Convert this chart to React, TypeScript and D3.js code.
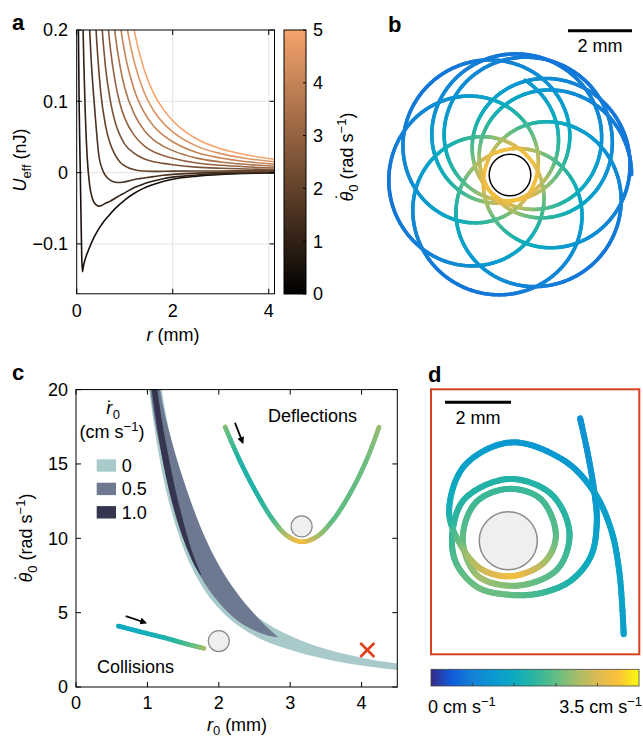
import React from "react";
import * as d3 from "d3";

const FONT = "'Liberation Sans', Arial, Helvetica, sans-serif";

// ---------------- Panel a : effective potential curves ----------------
const thetaDotLevels = [0.5, 1, 1.5, 2, 2.5, 3, 3.5, 4, 4.5, 5];
const ueffTheta05 = [[0.03,0.24],[0.05,0.1],[0.07,0.018],[0.09,-0.062],[0.105,-0.118],[0.12,-0.139],[0.14,-0.131],[0.17,-0.123],[0.22,-0.113],[0.28,-0.103],[0.36,-0.091],[0.45,-0.08],[0.55,-0.07],[0.64,-0.0625],[0.8,-0.0505],[1.0,-0.0385],[1.2,-0.029],[1.4,-0.0218],[1.68,-0.0148],[2.0,-0.0093],[2.5,-0.005],[3.0,-0.0026],[3.5,-0.0013],[4.12,-0.0004]];
const ueffTheta10 = [[0.12,0.24],[0.15,0.15],[0.18,0.08],[0.22,0.02],[0.27,-0.018],[0.33,-0.037],[0.4,-0.045],[0.46,-0.047],[0.52,-0.046],[0.6,-0.043],[0.7,-0.04],[0.8,-0.036],[0.9,-0.032],[1.0,-0.0285],[1.2,-0.0209],[1.4,-0.0158],[1.6,-0.0119],[1.8,-0.0086],[2.0,-0.0064],[2.5,-0.0034],[3.0,-0.0015],[3.5,-0.0006],[4.12,0.0001]];
const ueffTheta15 = [[0.24,0.24],[0.3,0.16],[0.38,0.085],[0.46,0.025],[0.55,0.002],[0.65,-0.008],[0.75,-0.0125],[0.85,-0.0138],[0.95,-0.0135],[1.1,-0.0115],[1.2,-0.0098],[1.4,-0.0076],[1.6,-0.0056],[1.8,-0.0038],[2.0,-0.0025],[2.5,-0.0008],[3.0,0.0003],[3.5,0.0008],[4.12,0.0011]];
const ueffTheta20 = [[0.35,0.289],[0.4,0.204],[0.45,0.153],[0.5,0.113],[0.6,0.066],[0.7,0.04],[0.8,0.025],[0.9,0.015],[1.0,0.0095],[1.2,0.004],[1.4,0.0022],[1.6,0.0017],[1.8,0.0018],[2.0,0.002],[2.5,0.0022],[3.0,0.0023],[3.5,0.0024],[4.12,0.0024]];
const ueffTheta25 = [[0.45,0.299],[0.5,0.232],[0.6,0.148],[0.7,0.101],[0.8,0.071],[0.9,0.0525],[1.0,0.04],[1.2,0.027],[1.4,0.0194],[1.6,0.0151],[1.8,0.0129],[2.0,0.0111],[2.5,0.0077],[3.0,0.0061],[3.5,0.0051],[4.12,0.0042]];
const ueffTheta30 = [[0.55,0.303],[0.6,0.249],[0.7,0.175],[0.8,0.128],[0.9,0.097],[1.0,0.0764],[1.2,0.0522],[1.4,0.0379],[1.6,0.0292],[1.8,0.024],[2.0,0.0201],[2.5,0.0134],[3.0,0.0102],[3.5,0.0081],[4.12,0.0064]];
const ueffTheta35 = [[0.65,0.3085],[0.7,0.262],[0.8,0.195],[0.9,0.15],[1.0,0.119],[1.2,0.082],[1.4,0.0597],[1.6,0.046],[1.8,0.0372],[2.0,0.0308],[2.5,0.0203],[3.0,0.0149],[3.5,0.0116],[4.12,0.0089]];
const ueffTheta40 = [[0.75,0.312],[0.8,0.272],[0.9,0.211],[1.0,0.1686],[1.2,0.116],[1.4,0.085],[1.6,0.0653],[1.8,0.0525],[2.0,0.0432],[2.5,0.0282],[3.0,0.0204],[3.5,0.0156],[4.12,0.0118]];
const ueffTheta45 = [[0.85,0.316],[0.9,0.28],[1.0,0.2245],[1.1,0.1847],[1.2,0.155],[1.4,0.1135],[1.6,0.0871],[1.8,0.0697],[2.0,0.0571],[2.5,0.0371],[3.0,0.0266],[3.5,0.0202],[4.12,0.0151]];
const ueffTheta50 = [[0.95,0.319],[1.0,0.287],[1.1,0.2364],[1.2,0.1985],[1.4,0.1454],[1.6,0.1115],[1.8,0.089],[2.0,0.0728],[2.5,0.0471],[3.0,0.0336],[3.5,0.0253],[4.12,0.0188]];
const ueffCurves = [ueffTheta05, ueffTheta10, ueffTheta15, ueffTheta20, ueffTheta25, ueffTheta30, ueffTheta35, ueffTheta40, ueffTheta45, ueffTheta50];
const aXTicks = [0, 2, 4];
const aYTicks = [-0.1, 0, 0.1, 0.2];
const aYTickLabels = ["\u22120.1", "0", "0.1", "0.2"];
const aGridX = [2, 4];
const aGridY = [-0.1, 0, 0.1];
const aColorbarTicks = [0, 1, 2, 3, 4, 5];
const aColormapEnds = ["#000000", "#f6a46c"];

// ---------------- Panel b : rosette orbit (precessing loop) ----------------
const bLoopRadiusMm = [2.3];
const bGuideRadiusMm = [1.5];
const bLoopPhaseStartEndDeg = [77.8, 2880];
const bPrecessionPerLoopDeg = [62.89];
const bEndAngleDeg = [0];
const bObstacleRadiusMm = [0.65];
const bSpeedColorRange = [0.17, 0.87];

// ---------------- Panel c : capture bands ----------------
const cXTicks = [0, 1, 2, 3, 4];
const cYTicks = [0, 5, 10, 15, 20];
const band0R = [0.95, 1.0, 1.1, 1.2, 1.35, 1.5, 1.75, 2.0, 2.5, 3.0, 3.5, 4.0, 4.5];
const band0Lo = [23.3, 21.0, 17.4, 14.6, 11.6, 9.4, 6.9, 5.3, 3.45, 2.5, 1.87, 1.44, 1.14];
const band0Hi = [31.5, 28.5, 23.6, 20.0, 16.2, 13.3, 9.9, 7.6, 4.9, 3.45, 2.55, 1.97, 1.58];
const band05R = [1.0, 1.1, 1.2, 1.35, 1.5, 1.75, 2.0, 2.25, 2.5, 2.75, 2.82];
const band05Lo = [21.5, 18.0, 15.6, 12.3, 10.0, 7.4, 5.7, 4.5, 3.8, 3.4, 3.35];
const band05Hi = [27.0, 22.6, 19.4, 16.4, 14.0, 10.7, 8.2, 6.35, 4.9, 3.7, 3.4];
const band10R = [1.0, 1.05, 1.1, 1.2, 1.3, 1.4, 1.5, 1.6, 1.68, 1.75];
const band10Lo = [22.5, 20.4, 18.6, 15.6, 13.3, 11.5, 10.0, 8.8, 8.0, 7.5];
const band10Hi = [26.0, 23.6, 21.5, 18.0, 15.4, 13.1, 11.2, 9.5, 8.4, 7.6];
const bandLabels = ["0", "0.5", "1.0"];
const bandColors = ["#a9caca", "#6d7990", "#34354f"];
const deflX = [2.087, 2.29, 2.53, 2.76, 2.95, 3.16, 3.37, 3.6, 3.84, 4.07, 4.244];
const deflY = [17.5, 15.27, 13.03, 11.23, 10.2, 9.77, 10.1, 11.23, 13.03, 15.27, 17.47];
const deflSpeed = [2.38, 1.65, 1.65, 1.92, 2.52, 3.08, 2.52, 2.1, 2.1, 2.17, 2.38];
const collX = [0.592, 0.896, 1.27, 1.55, 1.793];
const collY = [4.1, 3.72, 3.27, 2.89, 2.6];
const collSpeed = [1.35, 1.45, 1.6, 1.93, 2.45];
const deflObstacle = [3.16, 10.8];
const collObstacle = [2.0, 3.09];
const deflArrow = [2.227, 17.77, 2.335, 16.43];
const collArrow = [0.696, 4.77, 0.976, 4.32];
const crossMark = [4.08, 2.49];

// ---------------- Panel d : spiral trajectory ----------------
const dPathAngleDeg = [59.6, 48.2, 29.2, 11.8, -10.3, -32.5, -58.1, -89.0, -123.4, -157.5, -188.4, -223.5, -270, -312.3, -352.3, -390, -438.4, -491.3, -542.1, -589.8, -630, -668.2, -714.1, -751.2, -805.8, -854, -894, -925.7, -959.6, -991.5, -1025.1, -1050.8, -1073.6, -1095.9, -1119];
const dPathRadiusMm = [4.3, 3.6, 2.99, 2.74, 2.55, 2.25, 1.87, 1.64, 1.69, 1.72, 1.71, 1.83, 1.87, 1.92, 1.87, 1.72, 1.39, 1.41, 1.38, 1.52, 1.57, 1.6, 1.45, 1.27, 1.08, 1.19, 1.44, 1.99, 2.63, 2.98, 2.96, 2.99, 3.13, 3.5, 4.5];
const dPathSpeed = [0.95, 0.98, 1.05, 1.16, 1.33, 1.58, 1.86, 2.1, 2.17, 2.03, 1.82, 1.68, 1.65, 1.68, 1.75, 1.96, 2.2, 2.45, 2.1, 1.89, 1.82, 1.89, 2.03, 2.45, 3.05, 2.73, 2.31, 1.58, 1.23, 1.05, 1.05, 1.16, 1.23, 1.23, 1.19];
const dObstacleRadiusMm = [0.88];
const speedMax = [3.5];
const speedTicks = [0.7, 1.4, 2.1, 2.8];
const parulaStops = ["#352a87", "#0f5cdd", "#1481d6", "#0a98d1", "#0cabc0", "#2cb59f", "#62bd85", "#a5be6a", "#dcb952", "#fcc23a", "#f9fb0e"];

const parula = d3
  .scaleLinear<string>()
  .domain(parulaStops.map((_, i) => i / (parulaStops.length - 1)))
  .range(parulaStops)
  .interpolate(d3.interpolateRgb)
  .clamp(true);

type Piece = { x1: number; y1: number; x2: number; y2: number; c: string };

function catmullPieces(pts: [number, number][], vals: number[], colorOf: (v: number) => string, steps = 12): Piece[] {
  const segs: number[][] = [];
  let cx = 0, cy = 0;
  const ctx: any = {
    beginPath() {},
    closePath() {},
    moveTo(x: number, y: number) { cx = x; cy = y; },
    lineTo(x: number, y: number) { segs.push([cx, cy, cx, cy, x, y, x, y]); cx = x; cy = y; },
    bezierCurveTo(x1: number, y1: number, x2: number, y2: number, x: number, y: number) {
      segs.push([cx, cy, x1, y1, x2, y2, x, y]); cx = x; cy = y;
    },
  };
  (d3.line() as any).curve(d3.curveCatmullRom.alpha(0.5)).context(ctx)(pts);
  const out: Piece[] = [];
  segs.forEach((s, i) => {
    const v0 = vals[Math.min(i, vals.length - 1)];
    const v1 = vals[Math.min(i + 1, vals.length - 1)];
    let px = s[0], py = s[1];
    for (let k = 1; k <= steps; k++) {
      const t = k / steps, m = 1 - t;
      const x = m * m * m * s[0] + 3 * m * m * t * s[2] + 3 * m * t * t * s[4] + t * t * t * s[6];
      const y = m * m * m * s[1] + 3 * m * m * t * s[3] + 3 * m * t * t * s[5] + t * t * t * s[7];
      const tv = (k - 0.5) / steps;
      out.push({ x1: px, y1: py, x2: x, y2: y, c: colorOf(v0 + (v1 - v0) * tv) });
      px = x; py = y;
    }
  });
  return out;
}

// theta-dot label pieces (rotated or not)
function ThetaDotUnits() {
  return (
    <>
      <tspan fontStyle="italic">{"\u03b8"}</tspan>
      <tspan dx={-7.5} dy={-4}>{"\u02d9"}</tspan>
      <tspan fontSize={13} dx={1.5} dy={9}>0</tspan>
      <tspan dy={-5}> (rad s</tspan>
      <tspan fontSize={13} dy={-7}>{"\u22121"}</tspan>
      <tspan dy={7}>)</tspan>
    </>
  );
}

export default function App() {
  // ---- panel a scales
  const xA = d3.scaleLinear().domain([0, 4.12]).range([76.7, 274.5]);
  const yA = d3.scaleLinear().domain([-0.17, 0.2]).range([293.8, 30]);
  const cbA = d3.scaleLinear().domain([0, 5]).range([294, 30]);
  const copper = d3.interpolateRgb(aColormapEnds[0], aColormapEnds[1]);
  const lineA = d3.line<number[]>().x((d) => xA(d[0])).y((d) => yA(d[1])).curve(d3.curveMonotoneX);

  // ---- panel b orbit
  const cxB = 510, cyB = 175, pxPerMmB = 32;
  const xB = d3.scaleLinear().domain([0, 1]).range([cxB, cxB + pxPerMmB]);
  const yB = d3.scaleLinear().domain([0, 1]).range([cyB, cyB + pxPerMmB]);
  const R = bLoopRadiusMm[0], C = bGuideRadiusMm[0];
  const rMin = R - C, rMax = R + C, aMean = (rMin + rMax) / 2;
  const vOf = (r: number) => Math.sqrt(Math.max(2 / r - 1 / aMean, 0));
  const vApo = vOf(rMax), vPeri = vOf(rMin);
  const [u0, u1] = bLoopPhaseStartEndDeg;
  const dlt = bPrecessionPerLoopDeg[0];
  const deg = Math.PI / 180;
  const orbitPts: { x: number; y: number; c: string }[] = [];
  for (let u = u0; u <= u1 + 1e-6; u += 1.2) {
    const phc = bEndAngleDeg[0] + ((u - u1) * dlt) / 360;
    const psi = phc + u;
    const mx = C * Math.cos(phc * deg) + R * Math.cos(psi * deg);
    const my = C * Math.sin(phc * deg) + R * Math.sin(psi * deg);
    const r = Math.hypot(mx, my);
    const t = bSpeedColorRange[0] + (bSpeedColorRange[1] - bSpeedColorRange[0]) * ((vOf(r) - vApo) / (vPeri - vApo));
    orbitPts.push({ x: xB(mx), y: yB(my), c: parula(t) });
  }
  const orbitPieces: Piece[] = [];
  for (let i = 1; i < orbitPts.length; i++) {
    orbitPieces.push({ x1: orbitPts[i - 1].x, y1: orbitPts[i - 1].y, x2: orbitPts[i].x, y2: orbitPts[i].y, c: orbitPts[i].c });
  }

  // ---- panel c scales
  const xC = d3.scaleLinear().domain([0, 4.5]).range([76, 397.3]);
  const yC = d3.scaleLinear().domain([0, 20]).range([687, 389.6]);
  const areaC = (rs: number[], lo: number[], hi: number[]) =>
    d3
      .area<number>()
      .x((_, i) => xC(rs[i]))
      .y0((_, i) => yC(lo[i]))
      .y1((_, i) => yC(hi[i]))
      .curve(d3.curveMonotoneX)(rs) || "";
  const speedColor = (v: number) => parula(v / speedMax[0]);
  const deflPieces = catmullPieces(deflX.map((x, i) => [xC(x), yC(deflY[i])] as [number, number]), deflSpeed, speedColor);
  const collPieces = catmullPieces(collX.map((x, i) => [xC(x), yC(collY[i])] as [number, number]), collSpeed, speedColor);

  // ---- panel d
  const cxD = 508.3, cyD = 540.7, pxPerMmD = 33;
  const xD = d3.scaleLinear().domain([0, 1]).range([cxD, cxD + pxPerMmD]);
  const yD = d3.scaleLinear().domain([0, 1]).range([cyD, cyD - pxPerMmD]);
  const dPts = dPathAngleDeg.map((ang, i) => {
    const r = dPathRadiusMm[i];
    const th = ang * deg;
    return [xD(r * Math.cos(th)), yD(r * Math.sin(th))] as [number, number];
  });
  const dPieces = catmullPieces(dPts, dPathSpeed, speedColor, 14);
  const cbD = d3.scaleLinear().domain([0, speedMax[0]]).range([431, 639]);

  const tickLen = 5;
  const sub = 13;

  return (
    <svg
      width={643}
      height={739}
      viewBox="0 0 643 739"
      style={{ position: "absolute", left: 0, top: 0, background: "#fff" }}
      fontFamily={FONT}
      fontSize={18}
    >
      <defs>
        <clipPath id="clipA">
          <rect x={xA(0)} y={yA(0.2)} width={xA(4.12) - xA(0)} height={yA(-0.17) - yA(0.2)} />
        </clipPath>
        <clipPath id="clipC">
          <rect x={xC(0)} y={yC(20)} width={xC(4.5) - xC(0)} height={yC(0) - yC(20)} />
        </clipPath>
        <linearGradient id="gradA" x1="0" y1="1" x2="0" y2="0">
          <stop offset="0" stopColor={aColormapEnds[0]} />
          <stop offset="1" stopColor={aColormapEnds[1]} />
        </linearGradient>
        <linearGradient id="gradD" x1="0" y1="0" x2="1" y2="0">
          {parulaStops.map((c, i) => (
            <stop key={i} offset={i / (parulaStops.length - 1)} stopColor={c} />
          ))}
        </linearGradient>
        <filter id="soft" x="-10%" y="-10%" width="120%" height="120%">
          <feGaussianBlur stdDeviation="0.7" />
        </filter>
        <marker id="arrowHead" viewBox="0 0 10 10" refX="8" refY="5" markerWidth="7" markerHeight="7" orient="auto" markerUnits="userSpaceOnUse">
          <path d="M0,0 L10,5 L0,10 Z" fill="#000" />
        </marker>
      </defs>

      {/* ===================== Panel a ===================== */}
      <text x={12} y={30} fontWeight="bold" fontSize={22}>a</text>
      {aGridX.map((g) => (
        <line key={"gx" + g} x1={xA(g)} x2={xA(g)} y1={yA(0.2)} y2={yA(-0.17)} stroke="#e3e3e3" />
      ))}
      {aGridY.map((g) => (
        <line key={"gy" + g} x1={xA(0)} x2={xA(4.12)} y1={yA(g)} y2={yA(g)} stroke="#e3e3e3" />
      ))}
      <g clipPath="url(#clipA)">
        {ueffCurves.map((pts, i) => (
          <path key={i} d={lineA(pts) || ""} fill="none" stroke={copper(thetaDotLevels[i] / 5)} strokeWidth={1.6} />
        ))}
      </g>
      <rect x={xA(0)} y={yA(0.2)} width={xA(4.12) - xA(0)} height={yA(-0.17) - yA(0.2)} fill="none" stroke="#000" strokeWidth={1} />
      {aYTicks.map((t, i) => (
        <g key={"ayt" + t}>
          <line x1={xA(0)} x2={xA(0) + tickLen} y1={yA(t)} y2={yA(t)} stroke="#000" />
          <line x1={xA(4.12)} x2={xA(4.12) - tickLen} y1={yA(t)} y2={yA(t)} stroke="#000" />
          <text x={68} y={yA(t)} dy="0.35em" textAnchor="end">{aYTickLabels[i]}</text>
        </g>
      ))}
      {aXTicks.map((t) => (
        <g key={"axt" + t}>
          <line x1={xA(t)} x2={xA(t)} y1={yA(-0.17)} y2={yA(-0.17) - tickLen} stroke="#000" />
          <line x1={xA(t)} x2={xA(t)} y1={yA(0.2)} y2={yA(0.2) + tickLen} stroke="#000" />
          <text x={xA(t)} y={317} textAnchor="middle">{t}</text>
        </g>
      ))}
      <text x={173} y={341} textAnchor="middle">
        <tspan fontStyle="italic">r</tspan> (mm)
      </text>
      <text transform="translate(26,160) rotate(-90)" textAnchor="middle">
        <tspan fontStyle="italic">U</tspan>
        <tspan fontSize={sub} dy={5}>eff</tspan>
        <tspan dy={-5}> (nJ)</tspan>
      </text>
      {/* colorbar a */}
      <rect x={284} y={cbA(5)} width={22} height={cbA(0) - cbA(5)} fill="url(#gradA)" stroke="#000" strokeWidth={1} />
      {aColorbarTicks.map((t) => (
        <g key={"cbt" + t}>
          <line x1={306} x2={303} y1={cbA(t)} y2={cbA(t)} stroke="#000" />
          <text x={313} y={cbA(t)} dy="0.35em">{t}</text>
        </g>
      ))}
      <text transform="translate(353,157) rotate(-90)" textAnchor="middle">
        <ThetaDotUnits />
      </text>

      {/* ===================== Panel b ===================== */}
      <text x={388} y={32} fontWeight="bold" fontSize={22}>b</text>
      <line x1={568} x2={632} y1={30.7} y2={30.7} stroke="#000" strokeWidth={3} />
      <text x={600} y={52} textAnchor="middle">2 mm</text>
      <g strokeLinecap="round" strokeWidth={3.6}>
        {orbitPieces.map((p, i) => (
          <line key={i} x1={p.x1} y1={p.y1} x2={p.x2} y2={p.y2} stroke={p.c} />
        ))}
      </g>
      <circle cx={cxB} cy={cyB} r={bObstacleRadiusMm[0] * pxPerMmB} fill="#fff" stroke="#000" strokeWidth={1.5} />

      {/* ===================== Panel c ===================== */}
      <text x={12} y={380} fontWeight="bold" fontSize={22}>c</text>
      <g clipPath="url(#clipC)">
        <path d={areaC(band0R, band0Lo, band0Hi)} fill={bandColors[0]} filter="url(#soft)" />
        <path d={areaC(band05R, band05Lo, band05Hi)} fill={bandColors[1]} filter="url(#soft)" />
        <path d={areaC(band10R, band10Lo, band10Hi)} fill={bandColors[2]} filter="url(#soft)" />
      </g>
      <rect x={xC(0)} y={yC(20)} width={xC(4.5) - xC(0)} height={yC(0) - yC(20)} fill="none" stroke="#000" strokeWidth={1} />
      {cYTicks.map((t) => (
        <g key={"cyt" + t}>
          <line x1={xC(0)} x2={xC(0) + tickLen} y1={yC(t)} y2={yC(t)} stroke="#000" />
          <line x1={xC(4.5)} x2={xC(4.5) - tickLen} y1={yC(t)} y2={yC(t)} stroke="#000" />
          <text x={68} y={yC(t)} dy="0.35em" textAnchor="end">{t}</text>
        </g>
      ))}
      {cXTicks.map((t) => (
        <g key={"cxt" + t}>
          <line x1={xC(t)} x2={xC(t)} y1={yC(0)} y2={yC(0) - tickLen} stroke="#000" />
          <line x1={xC(t)} x2={xC(t)} y1={yC(20)} y2={yC(20) + tickLen} stroke="#000" />
          <text x={xC(t)} y={709} textAnchor="middle">{t}</text>
        </g>
      ))}
      <text x={237} y={731} textAnchor="middle">
        <tspan fontStyle="italic">r</tspan>
        <tspan fontSize={sub} dy={4}>0</tspan>
        <tspan dy={-4}> (mm)</tspan>
      </text>
      <text transform="translate(32,538) rotate(-90)" textAnchor="middle">
        <ThetaDotUnits />
      </text>
      {/* legend */}
      <text x={113} y={414} textAnchor="middle">
        <tspan fontStyle="italic">r</tspan>
        <tspan dx={-5.5}>{"\u02d9"}</tspan>
        <tspan fontSize={sub} dy={5}>0</tspan>
      </text>
      <text x={112} y={438} textAnchor="middle">
        (cm s<tspan fontSize={sub} dy={-7}>{"\u22121"}</tspan>
        <tspan dy={7}>)</tspan>
      </text>
      {bandLabels.map((lab, i) => (
        <g key={"lg" + lab}>
          <rect x={96.7} y={459.3 + i * 23.4} width={19.3} height={12.4} fill={bandColors[i]} />
          <text x={121.7} y={459.3 + i * 23.4 + 6.2} dy="0.36em">{lab}</text>
        </g>
      ))}
      {/* insets */}
      <g strokeLinecap="round" strokeWidth={4.6}>
        {deflPieces.map((p, i) => (
          <line key={"df" + i} x1={p.x1} y1={p.y1} x2={p.x2} y2={p.y2} stroke={p.c} />
        ))}
        {collPieces.map((p, i) => (
          <line key={"cl" + i} x1={p.x1} y1={p.y1} x2={p.x2} y2={p.y2} stroke={p.c} />
        ))}
      </g>
      <circle cx={xC(deflObstacle[0])} cy={yC(deflObstacle[1])} r={10.5} fill="#efefef" stroke="#8a8a8a" strokeWidth={1.2} />
      <circle cx={xC(collObstacle[0])} cy={yC(collObstacle[1])} r={10.5} fill="#efefef" stroke="#8a8a8a" strokeWidth={1.2} />
      <line x1={xC(deflArrow[0])} y1={yC(deflArrow[1])} x2={xC(deflArrow[2])} y2={yC(deflArrow[3])} stroke="#000" strokeWidth={1.8} markerEnd="url(#arrowHead)" />
      <line x1={xC(collArrow[0])} y1={yC(collArrow[1])} x2={xC(collArrow[2])} y2={yC(collArrow[3])} stroke="#000" strokeWidth={1.8} markerEnd="url(#arrowHead)" />
      <text x={268} y={421.7}>Deflections</text>
      <text x={97} y={672.7}>Collisions</text>
      <g stroke="#e0421b" strokeWidth={2.6} strokeLinecap="butt">
        <line x1={xC(crossMark[0]) - 7} y1={yC(crossMark[1]) - 7} x2={xC(crossMark[0]) + 7} y2={yC(crossMark[1]) + 7} />
        <line x1={xC(crossMark[0]) - 7} y1={yC(crossMark[1]) + 7} x2={xC(crossMark[0]) + 7} y2={yC(crossMark[1]) - 7} />
      </g>

      {/* ===================== Panel d ===================== */}
      <text x={428} y={382} fontWeight="bold" fontSize={22}>d</text>
      <rect x={431} y={389.3} width={208.3} height={265} fill="none" stroke="#d8401f" strokeWidth={2} />
      <line x1={445} x2={511} y1={402.3} y2={402.3} stroke="#000" strokeWidth={3} />
      <text x={478} y={424} textAnchor="middle">2 mm</text>
      <g strokeLinecap="round" strokeWidth={6}>
        {dPieces.map((p, i) => (
          <line key={"dp" + i} x1={p.x1} y1={p.y1} x2={p.x2} y2={p.y2} stroke={p.c} />
        ))}
      </g>
      <circle cx={cxD} cy={cyD} r={dObstacleRadiusMm[0] * pxPerMmD} fill="#efefef" stroke="#8c8c8c" strokeWidth={1.5} />
      {/* speed colorbar */}
      <rect x={cbD(0)} y={669.3} width={cbD(speedMax[0]) - cbD(0)} height={16.7} fill="url(#gradD)" stroke="#444" strokeWidth={0.8} />
      {speedTicks.map((t) => (
        <line key={"st" + t} x1={cbD(t)} x2={cbD(t)} y1={686} y2={683} stroke="#333" strokeWidth={0.8} />
      ))}
      <text x={428} y={713}>
        0 cm s<tspan fontSize={sub} dy={-7}>{"\u22121"}</tspan>
      </text>
      <text x={642} y={713} textAnchor="end">
        3.5 cm s<tspan fontSize={sub} dy={-7}>{"\u22121"}</tspan>
      </text>
    </svg>
  );
}
